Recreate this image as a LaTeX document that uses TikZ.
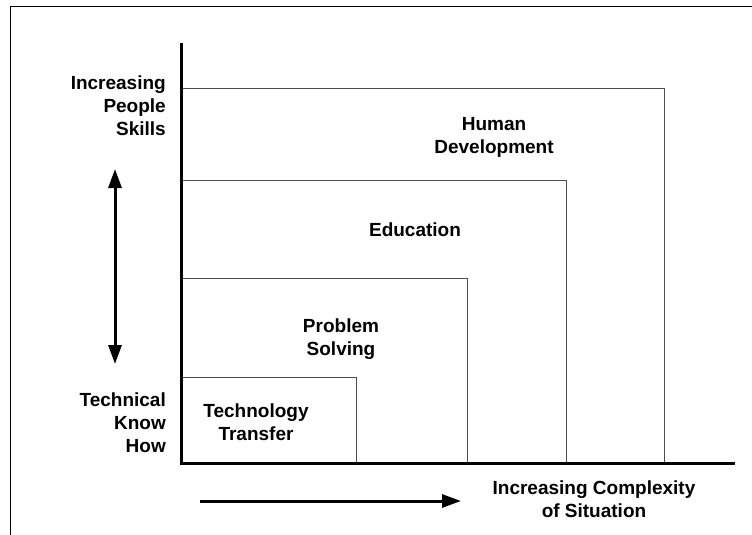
\documentclass[tikz,border=0pt]{standalone}
\usepackage{fontspec}
\setmainfont{Liberation Sans}
\usetikzlibrary{arrows.meta}
\begin{document}
\begin{tikzpicture}[x=1pt,y=-1pt,
  lbl/.style={font=\fontsize{19}{23}\selectfont\bfseries, inner sep=0pt, text=black},
  zone/.style={draw=black!70, line width=1pt},
  axis/.style={draw=black, line width=3pt},
  frame/.style={draw=black, line width=1pt},
  dirarrow/.style={draw=black, line width=3pt, -{Triangle[length=19pt,width=13pt]}},
  dirboth/.style={draw=black, line width=3pt, {Triangle[length=19pt,width=13pt]}-{Triangle[length=19pt,width=13pt]}}]
\useasboundingbox (0,0) rectangle (752,535);
% outer frame
\draw[frame] (10,535) -- (10,7) -- (752,7);
% nested regions, from outermost to innermost
\draw[zone] (181,88) -- (664,88) -- (664,463);
\draw[zone] (181,180) -- (566,180) -- (566,463);
\draw[zone] (181,278) -- (467,278) -- (467,463);
\draw[zone] (181,377) -- (356,377) -- (356,463);
% axes
\coordinate (origin) at (181.5,463);
\coordinate (ytop) at (181.5,43);
\coordinate (xend) at (735,463);
\draw[axis] (ytop) -- (origin) -- (xend);
% region labels
\node[lbl, align=center] (hd) at (494,137) {Human\\Development};
\node[lbl, align=center] (ed) at (415,230) {Education};
\node[lbl, align=center] (ps) at (341,339.5) {Problem\\Solving};
\node[lbl, align=center] (tt) at (256,422.5) {Technology\\Transfer};
% axis labels
\node[lbl, align=right, anchor=east] (ips) at (166,105.5) {Increasing\\People\\Skills};
\node[lbl, align=right, anchor=east] (tkh) at (166,423) {Technical\\Know\\How};
\node[lbl, align=center] (ics) at (594,499) {Increasing Complexity\\of Situation};
% direction arrows
\coordinate (vtop) at (115,169);
\coordinate (vbot) at (115,364);
\draw[dirboth] (vbot) -- (vtop);
\coordinate (hstart) at (200,501);
\coordinate (hend) at (461,501);
\draw[dirarrow] (hstart) -- (hend);
\end{tikzpicture}
\end{document}
